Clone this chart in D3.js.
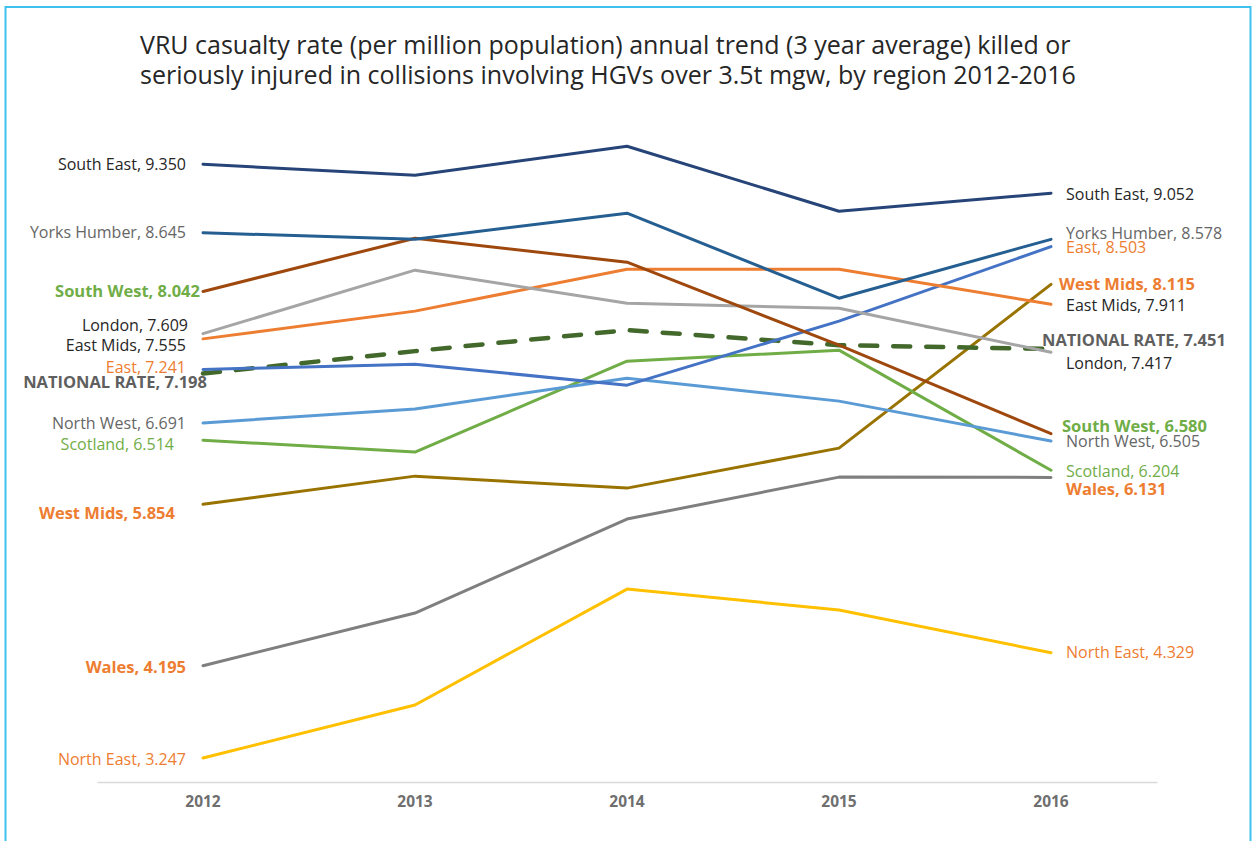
<!DOCTYPE html>
<html>
<head>
<meta charset="utf-8">
<script src="https://cdn.jsdelivr.net/npm/d3@7"></script>
<style>
  body { margin: 0; background: #fff; }
  svg { display: block; font-family: "Open Sans", sans-serif; }
</style>
</head>
<body>
<svg id="chart" width="1253" height="841"></svg>
<script>
// years along the x axis
var years = ['2012', '2013', '2014', '2015', '2016'];

// casualty rate per million, one array per region
var southEast   = [9.350, 9.237, 9.535, 8.867, 9.052];
var yorksHumber = [8.645, 8.580, 8.847, 7.973, 8.578];
var southWest   = [8.042, 8.590, 8.343, 7.490, 6.580];
var london      = [7.609, 8.261, 7.922, 7.870, 7.417];
var eastMids    = [7.555, 7.840, 8.271, 8.271, 7.911];
var east        = [7.241, 7.295, 7.079, 7.737, 8.503];
var national    = [7.198, 7.429, 7.645, 7.490, 7.451];
var northWest   = [6.691, 6.833, 7.151, 6.915, 6.505];
var scotland    = [6.514, 6.391, 7.326, 7.439, 6.204];
var westMids    = [5.854, 6.144, 6.021, 6.432, 8.115];
var wales       = [4.195, 4.737, 5.703, 6.134, 6.131];
var northEast   = [3.247, 3.792, 4.983, 4.768, 4.329];

var regionNames = ['South East', 'Yorks Humber', 'South West', 'London', 'East Mids', 'East',
                   'NATIONAL RATE', 'North West', 'Scotland', 'West Mids', 'Wales', 'North East'];
var regionValues = [southEast, yorksHumber, southWest, london, eastMids, east,
                    national, northWest, scotland, westMids, wales, northEast];

// styling (line colour, label colour, bold, dashed) -- kept apart from data
var lineColor = {
  'South East': '#264478', 'Yorks Humber': '#255e91', 'South West': '#9e480e',
  'London': '#a5a5a5', 'East Mids': '#ed7d31', 'East': '#4472c4',
  'NATIONAL RATE': '#43682b', 'North West': '#5b9bd5', 'Scotland': '#70ad47',
  'West Mids': '#997300', 'Wales': '#7f7f7f', 'North East': '#ffc000'
};
var labelStyle = {
  'South East':    { fill: '#262626', bold: false },
  'Yorks Humber':  { fill: '#666666', bold: false },
  'South West':    { fill: '#70ad47', bold: true },
  'London':        { fill: '#262626', bold: false },
  'East Mids':     { fill: '#262626', bold: false },
  'East':          { fill: '#ed7d31', bold: false },
  'NATIONAL RATE': { fill: '#5f5f5f', bold: true },
  'North West':    { fill: '#666666', bold: false },
  'Scotland':      { fill: '#70ad47', bold: false },
  'West Mids':     { fill: '#ed7d31', bold: true },
  'Wales':         { fill: '#ed7d31', bold: true },
  'North East':    { fill: '#ed7d31', bold: false }
};
// hand nudges of the labels (dx, dy in px) as in the original
var leftNudge = {
  'South East': [0, 0], 'Yorks Humber': [0, 0], 'South West': [14, 0],
  'London': [2, -8], 'East Mids': [0, 7], 'East': [0, -2],
  'NATIONAL RATE': [21, 9], 'North West': [0, 0], 'Scotland': [-12, 4],
  'West Mids': [-11, 9], 'Wales': [0, 1], 'North East': [0, 1]
};
var rightNudge = {
  'South East': [0, 1], 'Yorks Humber': [0, -6], 'East': [0, 1],
  'West Mids': [-7, 0], 'East Mids': [0, 1], 'NATIONAL RATE': [-24, -9],
  'London': [0, 11], 'South West': [-4, -7], 'North West': [0, 0],
  'Scotland': [0, 1], 'Wales': [0, 12], 'North East': [0, 0]
};

var series = regionNames.map(function(n, i) { return { name: n, values: regionValues[i] }; });

var svg = d3.select('#chart');

// outer frame
svg.append('rect')
   .attr('x', 5.5).attr('y', 7).attr('width', 1245).attr('height', 850)
   .attr('fill', 'none').attr('stroke', '#3ec1ef').attr('stroke-width', 2);

// title
var title = svg.append('text')
   .attr('x', 140).attr('y', 54)
   .style('font-size', '25px').style('fill', '#262626');
title.append('tspan').attr('x', 140).attr('dy', 0)
   .text('VRU casualty rate (per million population) annual trend (3 year average) killed or');
title.append('tspan').attr('x', 140).attr('dy', 30)
   .text('seriously injured in collisions involving HGVs over 3.5t mgw, by region 2012-2016');

var x = d3.scaleBand().domain(years).range([97, 1157]);
var y = d3.scaleLinear().domain([3, 10]).range([782, 101]);

// axis
var xAxis = svg.append('g')
   .attr('transform', 'translate(0,782)')
   .call(d3.axisBottom(x).tickSize(0).tickPadding(14));
xAxis.select('.domain').attr('stroke', '#d9d9d9').attr('stroke-width', 1.5);
xAxis.selectAll('text')
   .style('font-family', '"Open Sans", sans-serif')
   .style('font-size', '15.5px').style('font-weight', 'bold').style('fill', '#6f6f6f');

var line = d3.line()
   .x(function(d, i) { return x(years[i]) + x.bandwidth() / 2; })
   .y(function(d) { return y(d); });

// draw lines in reverse order so the first series sits on top
svg.selectAll('path.series')
   .data(series.slice().reverse())
   .enter()
   .append('path')
   .attr('class', 'series')
   .attr('d', function(d) { return line(d.values); })
   .attr('fill', 'none')
   .attr('stroke', function(d) { return lineColor[d.name]; })
   .attr('stroke-width', function(d) { return d.name === 'NATIONAL RATE' ? 4.5 : 3; })
   .attr('stroke-dasharray', function(d) { return d.name === 'NATIONAL RATE' ? '17,16' : null; })
   .attr('stroke-linecap', 'round')
   .attr('stroke-linejoin', 'round');

function fmt(v) { return d3.format('.3f')(v); }

function labelSize(d) { return labelStyle[d.name].bold ? '16.5px' : '16px'; }

// left labels
svg.selectAll('text.left')
   .data(series)
   .enter()
   .append('text')
   .attr('class', 'left')
   .attr('x', function(d) { return x(years[0]) + x.bandwidth() / 2 - 17 + leftNudge[d.name][0]; })
   .attr('y', function(d) { return y(d.values[0]) + leftNudge[d.name][1]; })
   .attr('dy', '0.35em')
   .attr('text-anchor', 'end')
   .style('font-size', labelSize)
   .style('font-weight', function(d) { return labelStyle[d.name].bold ? 'bold' : 'normal'; })
   .style('fill', function(d) { return labelStyle[d.name].fill; })
   .text(function(d) { return d.name + ', ' + fmt(d.values[0]); });

// right labels
svg.selectAll('text.right')
   .data(series)
   .enter()
   .append('text')
   .attr('class', 'right')
   .attr('x', function(d) { return x(years[4]) + x.bandwidth() / 2 + 15 + rightNudge[d.name][0]; })
   .attr('y', function(d) { return y(d.values[4]) + rightNudge[d.name][1]; })
   .attr('dy', '0.35em')
   .attr('text-anchor', 'start')
   .style('font-size', labelSize)
   .style('font-weight', function(d) { return labelStyle[d.name].bold ? 'bold' : 'normal'; })
   .style('fill', function(d) { return labelStyle[d.name].fill; })
   .text(function(d) { return d.name + ', ' + fmt(d.values[4]); });
</script>
</body>
</html>
